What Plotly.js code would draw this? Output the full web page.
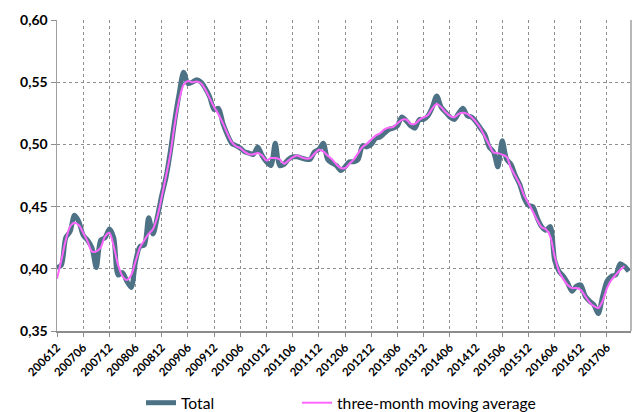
<!DOCTYPE html>
<html>
<head>
<meta charset="utf-8">
<script src="https://cdn.plot.ly/plotly-3.0.1.min.js"></script>
<style>html,body{margin:0;padding:0;background:#fff;}#chart{width:632px;height:412px;}</style>
</head>
<body>
<div id="chart"></div>
<script>
// Monthly categories 200612 .. 201711
var startYear = 2006, startMonth = 12, nMonths = 132;
var categories = [];
for (var i = 0; i < nMonths; i++) {
  var mm = startMonth - 1 + i;
  var y = startYear + Math.floor(mm / 12);
  var m = (mm % 12) + 1;
  categories.push(String(y) + (m < 10 ? '0' + m : String(m)));
}

var totalValues = [
  0.401, 0.403, 0.425, 0.430, 0.443, 0.438, 0.427, 0.423, 0.417, 0.401, 0.423, 0.425,
  0.432, 0.425, 0.395, 0.397, 0.390, 0.385, 0.406, 0.418, 0.419, 0.441, 0.428, 0.442,
  0.459, 0.474, 0.495, 0.520, 0.541, 0.558, 0.549, 0.550, 0.552, 0.550, 0.545, 0.538,
  0.528, 0.529, 0.517, 0.508, 0.501, 0.499, 0.497, 0.494, 0.493, 0.492, 0.498, 0.491,
  0.486, 0.483, 0.501, 0.483, 0.484, 0.488, 0.490, 0.490, 0.489, 0.488, 0.488, 0.494,
  0.496, 0.501, 0.488, 0.485, 0.483, 0.479, 0.482, 0.486, 0.486, 0.488, 0.499, 0.498,
  0.500, 0.505, 0.506, 0.509, 0.512, 0.513, 0.515, 0.522, 0.519, 0.515, 0.513, 0.520,
  0.520, 0.523, 0.530, 0.539, 0.530, 0.526, 0.522, 0.520, 0.525, 0.529, 0.523, 0.522,
  0.518, 0.513, 0.508, 0.498, 0.494, 0.482, 0.503, 0.488, 0.484, 0.475, 0.468, 0.457,
  0.451, 0.450, 0.441, 0.434, 0.431, 0.434, 0.407, 0.398, 0.394, 0.3885, 0.382, 0.386,
  0.387, 0.378, 0.374, 0.371, 0.364, 0.378, 0.390, 0.394, 0.395, 0.404, 0.402, 0.398
];

var movingAvgValues = [
  0.392, 0.407, 0.423, 0.434, 0.437, 0.435, 0.429, 0.422, 0.414, 0.414, 0.417, 0.426,
  0.429, 0.418, 0.403, 0.394, 0.391, 0.395, 0.406, 0.417, 0.423, 0.428, 0.432, 0.442,
  0.458, 0.475, 0.493, 0.517, 0.536, 0.548, 0.551, 0.550, 0.5505, 0.549, 0.544, 0.537,
  0.530, 0.524, 0.517, 0.509, 0.502, 0.4985, 0.497, 0.494, 0.492, 0.492, 0.493, 0.491,
  0.487, 0.489, 0.489, 0.488, 0.4845, 0.487, 0.4896, 0.491, 0.4896, 0.4886, 0.489, 0.4925,
  0.4957, 0.4944, 0.491, 0.488, 0.484, 0.481, 0.481, 0.4845, 0.488, 0.493, 0.498, 0.5005,
  0.504, 0.507, 0.509, 0.512, 0.5135, 0.514, 0.517, 0.5197, 0.520, 0.5165, 0.5165, 0.5197,
  0.5218, 0.5237, 0.529, 0.5324, 0.530, 0.526, 0.523, 0.5218, 0.5245, 0.5255, 0.5245, 0.5218,
  0.518, 0.513, 0.5064, 0.4997, 0.4936, 0.493, 0.4918, 0.490, 0.481, 0.4745, 0.468, 0.459,
  0.4527, 0.446, 0.4393, 0.4334, 0.4318, 0.426, 0.410, 0.398, 0.3917, 0.387, 0.3845, 0.3845,
  0.383, 0.378, 0.373, 0.370, 0.3685, 0.374, 0.3845, 0.391, 0.395, 0.399, 0.402
];

var tickLabels = ['200612','200706','200712','200806','200812','200906','200912','201006','201012',
  '201106','201112','201206','201212','201306','201312','201406','201412','201506','201512',
  '201606','201612','201706'];

var traces = [
  {
    x: categories.slice(0, totalValues.length),
    y: totalValues,
    type: 'scatter', mode: 'lines', name: 'Total',
    line: {color: '#4E7285', width: 5, shape: 'spline', smoothing: 0.8},
    legend: 'legend'
  },
  {
    x: categories.slice(0, movingAvgValues.length),
    y: movingAvgValues,
    type: 'scatter', mode: 'lines', name: 'three-month moving average',
    line: {color: '#FF66FF', width: 2, shape: 'spline', smoothing: 0.8},
    legend: 'legend2'
  }
];

var gridCol = '#8f8f8f';
var layout = {
  width: 632, height: 412,
  margin: {l: 57, r: 1, t: 20, b: 81, autoexpand: false},
  paper_bgcolor: '#ffffff', plot_bgcolor: '#ffffff',
  showlegend: true,
  font: {family: 'Lato, "Open Sans", sans-serif', color: '#000'},
  separators: ',.',
  xaxis: {
    type: 'category',
    categoryorder: 'array', categoryarray: categories,
    range: [0, 131.5],
    tickmode: 'array', tickvals: tickLabels, ticktext: tickLabels,
    tickangle: -45,
    tickfont: {family: 'Lato', size: 11.5, weight: 'bold', color: '#000'},
    showgrid: true, gridcolor: gridCol, gridwidth: 1, griddash: '3px,3px',
    showline: true, linecolor: '#8c8c8c', linewidth: 1.5,
    ticks: 'outside', ticklen: 4, tickcolor: '#8c8c8c',
    zeroline: false, fixedrange: true
  },
  yaxis: {
    range: [0.35, 0.60], dtick: 0.05, tick0: 0.35,
    tickformat: '.2f',
    tickfont: {family: 'Lato', size: 14, weight: 'bold', color: '#000'},
    showgrid: true, gridcolor: gridCol, gridwidth: 1, griddash: '3px,3px',
    showline: true, linecolor: '#a0a0a0', linewidth: 1.5,
    ticks: 'outside', ticklen: 5, tickcolor: '#8c8c8c',
    zeroline: false, fixedrange: true
  },
  legend: {
    orientation: 'h', xref: 'container', yref: 'container',
    x: 141 / 632, y: 9 / 412, xanchor: 'left', yanchor: 'middle',
    font: {family: 'Lato', size: 15.7, color: '#000'},
    bgcolor: 'rgba(0,0,0,0)'
  },
  legend2: {
    orientation: 'h', xref: 'container', yref: 'container',
    x: 297 / 632, y: 9 / 412, xanchor: 'left', yanchor: 'middle',
    font: {family: 'Lato', size: 15.7, color: '#000'},
    bgcolor: 'rgba(0,0,0,0)'
  },
  shapes: [
    {type: 'line', xref: 'paper', yref: 'paper', x0: 1, x1: 1, y0: 0, y1: 1,
     line: {color: '#a0a0a0', width: 1.5}}
  ]
};

Plotly.newPlot('chart', traces, layout, {displayModeBar: false, staticPlot: true});
</script>
</body>
</html>
